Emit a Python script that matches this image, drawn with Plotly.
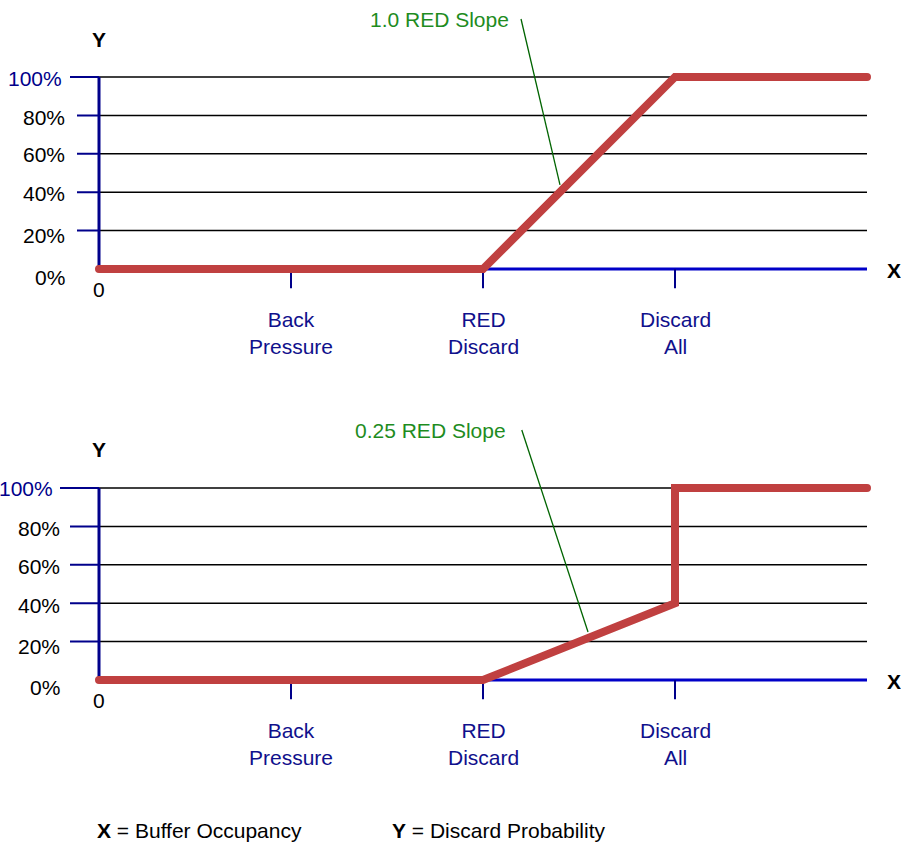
import plotly.graph_objects as go

# ---------------- data ----------------
category_labels = ["Back<br>Pressure", "RED<br>Discard", "Discard<br>All"]
category_x = [1, 2, 3]
y_tick_values = [0, 20, 40, 60, 80, 100]
y_tick_labels = ["0%", "20%", "40%", "60%", "80%", "100%"]

top_x = [0, 2, 3, 4]
top_y = [0, 0, 100, 100]
bottom_x = [0, 2, 3, 3, 4]
bottom_y = [0, 0, 40, 100, 100]

top_note = "1.0 RED Slope"
bottom_note = "0.25 RED Slope"
top_leader = [(2.198, 130.2), (2.401, 43.8)]
bottom_leader = [(2.202, 130.2), (2.547, 25.0)]
top_note_pos = (1.773, 130.2)
bottom_note_pos = (1.724, 130.2)

footer_x = "<b>X</b> = Buffer Occupancy"
footer_y = "<b>Y</b> = Discard Probability"

# ---------------- styling ----------------
W, H = 901, 844
FONT = "Liberation Sans, Arial, sans-serif"
FS = 21
RED = "#C04040"
NAVY = "#00008B"
XBLUE = "#0000C8"
LABEL_NAVY = "#10108C"
GREEN_TXT = "#1E8C1E"
GREEN_LINE = "#006400"

X0_PX, XUNIT = 99, 192.0
YUNIT = 1.92
XR = [-0.5, 4.15]
YR = [-10, 140]


def x_domain():
    return [(X0_PX + XR[0] * XUNIT) / W, (X0_PX + XR[1] * XUNIT) / W]


def y_domain(zero_px):
    top = zero_px - YR[1] * YUNIT
    bot = zero_px - YR[0] * YUNIT
    return [1 - bot / H, 1 - top / H]


fig = go.Figure()
fig.add_trace(go.Scatter(x=top_x, y=top_y, mode="lines", xaxis="x", yaxis="y",
                         line=dict(color=RED, width=8), hoverinfo="skip"))
fig.add_trace(go.Scatter(x=bottom_x, y=bottom_y, mode="lines", xaxis="x2", yaxis="y2",
                         line=dict(color=RED, width=8), hoverinfo="skip"))

shapes = []
annotations = []

panels = [
    dict(xr="x", yr="y", zero=269, ytick_len=[22, 22, 22, 22, 22, 29],
         ylab_shift=[-32, -32, -32, -32, -32, -35], ylab_dy=[-8, -5, -1, -1, -2, -1],
         note=top_note, note_pos=top_note_pos, leader=top_leader),
    dict(xr="x2", yr="y2", zero=680, ytick_len=[29, 29, 29, 29, 29, 39],
         ylab_shift=[-37, -37, -37, -37, -37, -44], ylab_dy=[-7, -5, -2, -2, -2, -1],
         note=bottom_note, note_pos=bottom_note_pos, leader=bottom_leader),
]

for p in panels:
    xr, yr = p["xr"], p["yr"]
    # gridlines
    for v in y_tick_values[1:]:
        shapes.append(dict(type="line", xref=xr, yref=yr, x0=0, x1=4, y0=v, y1=v,
                           line=dict(color="black", width=1.5), layer="below"))
    # x axis line
    shapes.append(dict(type="line", xref=xr, yref=yr, x0=0, x1=4, y0=0, y1=0,
                       line=dict(color=XBLUE, width=3), layer="below"))
    # y axis line
    shapes.append(dict(type="line", xref=xr, yref=yr, x0=0, x1=0, y0=0, y1=100,
                       line=dict(color=NAVY, width=3), layer="below"))
    # y ticks + labels
    for v, lab, ln, sh, dy in zip(y_tick_values, y_tick_labels, p["ytick_len"],
                                  p["ylab_shift"], p["ylab_dy"]):
        if v > 0:
            shapes.append(dict(type="line", xref=xr, yref=yr, xsizemode="pixel", xanchor=0,
                               x0=-ln, x1=0, y0=v, y1=v,
                               line=dict(color=NAVY, width=2), layer="below"))
        annotations.append(dict(xref=xr, yref=yr, x=0, y=v, text=lab, showarrow=False,
                                xanchor="right", yanchor="middle", xshift=sh, yshift=dy,
                                font=dict(family=FONT, size=FS,
                                          color=NAVY if v == 100 else "black")))
    # x ticks + labels
    for cx, cl in zip(category_x, category_labels):
        shapes.append(dict(type="line", xref=xr, yref=yr, ysizemode="pixel", yanchor=0,
                           x0=cx, x1=cx, y0=-20, y1=0,
                           line=dict(color=NAVY, width=2), layer="below"))
        annotations.append(dict(xref=xr, yref=yr, x=cx, y=0, text=cl, showarrow=False,
                                xanchor="center", yanchor="middle", yshift=-64,
                                font=dict(family=FONT, size=FS, color=LABEL_NAVY)))
    # origin label
    annotations.append(dict(xref=xr, yref=yr, x=0, y=0, text="0", showarrow=False,
                            xanchor="center", yanchor="middle", yshift=-20,
                            font=dict(family=FONT, size=FS, color="black")))
    # axis letters
    annotations.append(dict(xref=xr, yref=yr, x=0, y=100, text="<b>Y</b>", showarrow=False,
                            xanchor="center", yanchor="middle", yshift=38,
                            font=dict(family=FONT, size=FS, color="black")))
    annotations.append(dict(xref=xr, yref=yr, x=4, y=0, text="<b>X</b>", showarrow=False,
                            xanchor="center", yanchor="middle", xshift=27, yshift=-1,
                            font=dict(family=FONT, size=FS, color="black")))
    # slope note and leader
    (lx0, ly0), (lx1, ly1) = p["leader"]
    shapes.append(dict(type="line", xref=xr, yref=yr, x0=lx0, y0=ly0, x1=lx1, y1=ly1,
                       line=dict(color=GREEN_LINE, width=1.3), layer="above"))
    annotations.append(dict(xref=xr, yref=yr, x=p["note_pos"][0], y=p["note_pos"][1],
                            text=p["note"], showarrow=False, xanchor="center", yanchor="middle",
                            font=dict(family=FONT, size=FS, color=GREEN_TXT)))

# footer
annotations.append(dict(xref="paper", yref="paper", x=95 / W, y=1 - 830 / H, text=footer_x,
                        showarrow=False, xanchor="left", yanchor="middle",
                        font=dict(family=FONT, size=FS, color="black")))
annotations.append(dict(xref="paper", yref="paper", x=390 / W, y=1 - 830 / H, text=footer_y,
                        showarrow=False, xanchor="left", yanchor="middle",
                        font=dict(family=FONT, size=FS, color="black")))

axis_common = dict(visible=False, fixedrange=True)
fig.update_layout(
    width=W, height=H,
    margin=dict(l=0, r=0, t=0, b=0),
    paper_bgcolor="white", plot_bgcolor="white",
    showlegend=False,
    xaxis=dict(domain=x_domain(), range=XR, anchor="y", **axis_common),
    yaxis=dict(domain=y_domain(269), range=YR, anchor="x", **axis_common),
    xaxis2=dict(domain=x_domain(), range=XR, anchor="y2", **axis_common),
    yaxis2=dict(domain=y_domain(680), range=YR, anchor="x2", **axis_common),
    shapes=shapes,
    annotations=annotations,
)

post = """
document.body.style.margin = '0';
document.body.style.overflow = 'hidden';
document.querySelectorAll('.scatterlayer .js-line').forEach(function (p) {
  p.style.strokeLinecap = 'round';
});
"""

fig.write_html("out.html", config={"displayModeBar": False}, post_script=post)
